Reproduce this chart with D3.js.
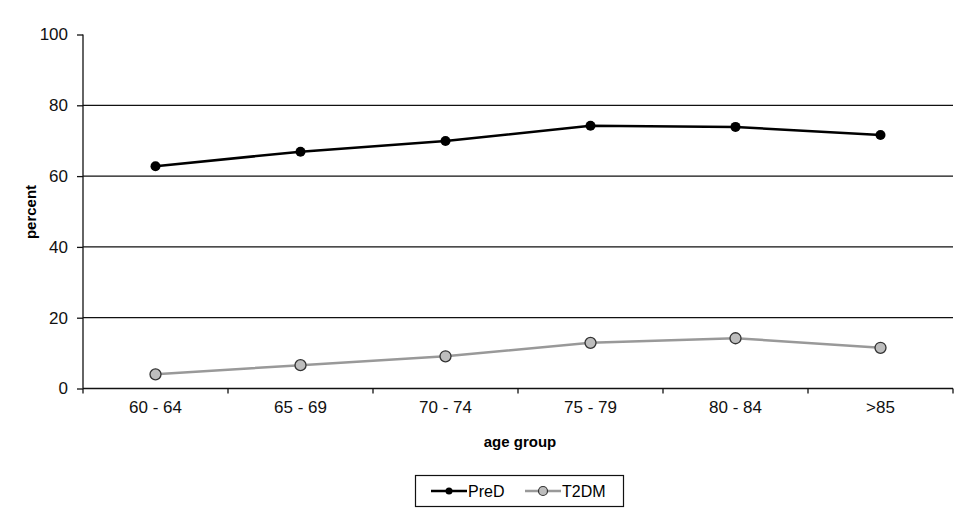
<!DOCTYPE html>
<html><head><meta charset="utf-8">
<script src="https://cdn.jsdelivr.net/npm/d3@7"></script>
<style>body{margin:0;background:#fff;}svg{display:block;font-family:Arial,"Liberation Sans",sans-serif;}</style>
</head><body><svg id="c" width="980" height="530"></svg>
<script>
const categories = ["60 - 64","65 - 69","70 - 74","75 - 79","80 - 84",">85"];
const predValues = [62.8, 66.9, 69.9, 74.2, 73.9, 71.6];
const t2dmValues = [4.0, 6.6, 9.1, 12.9, 14.2, 11.5];
const yTicks = [0,20,40,60,80,100];

const svg = d3.select("#c");
const L = 83, R = 953, T = 34.5, B = 388.5;
const x = d3.scaleBand().domain(categories).range([L,R]);
const y = d3.scaleLinear().domain([0,100]).range([B,T]);

// gridlines
svg.append("g").selectAll("line").data(yTicks.filter(d=>d>0&&d<100)).join("line")
  .attr("x1",L).attr("x2",R).attr("y1",d=>y(d)).attr("y2",d=>y(d))
  .attr("stroke","#111").attr("stroke-width",1.3);

// y axis
const ya = svg.append("g").attr("transform",`translate(${L},0)`)
  .call(d3.axisLeft(y).tickValues(yTicks).tickSize(6).tickPadding(9));
ya.selectAll("text").attr("font-size",17).attr("fill","#111");
ya.selectAll("line,path").attr("stroke","#111").attr("stroke-width",1.3);
ya.select(".domain").attr("d",`M0,${T}V${B}`);

// x axis
const xa = svg.append("g").attr("transform",`translate(0,${B})`)
  .call(d3.axisBottom(x).tickSize(0).tickPadding(12));
xa.selectAll("text").attr("font-size",17).attr("fill","#111");
xa.select(".domain").attr("stroke","#111").attr("stroke-width",1.3).attr("d",`M${L},0H${R}`);
svg.append("g").selectAll("line").data(d3.range(categories.length+1)).join("line")
  .attr("x1",i=>L+i*x.step()).attr("x2",i=>L+i*x.step())
  .attr("y1",B).attr("y2",B+5).attr("stroke","#111").attr("stroke-width",1.3);

// axis titles
svg.append("text").attr("transform",`translate(36,${212}) rotate(-90)`)
  .attr("text-anchor","middle").attr("font-weight","bold").attr("font-size",15).text("percent");
svg.append("text").attr("x",520).attr("y",447)
  .attr("text-anchor","middle").attr("font-weight","bold").attr("font-size",15).text("age group");

const cx = c => x(c)+x.bandwidth()/2;
const line = d3.line().x(d=>cx(d[0])).y(d=>y(d[1]));

// T2DM
const t2 = categories.map((c,i)=>[c,t2dmValues[i]]);
svg.append("path").datum(t2).attr("d",line).attr("fill","none").attr("stroke","#999").attr("stroke-width",2.5);
svg.append("g").selectAll("circle").data(t2).join("circle")
  .attr("cx",d=>cx(d[0])).attr("cy",d=>y(d[1])).attr("r",5.5)
  .attr("fill","#bdbdbd").attr("stroke","#333").attr("stroke-width",1.3);

// PreD
const pr = categories.map((c,i)=>[c,predValues[i]]);
svg.append("path").datum(pr).attr("d",line).attr("fill","none").attr("stroke","#000").attr("stroke-width",2.5);
svg.append("g").selectAll("circle").data(pr).join("circle")
  .attr("cx",d=>cx(d[0])).attr("cy",d=>y(d[1])).attr("r",5).attr("fill","#000");

// legend
const lg = svg.append("g");
lg.append("rect").attr("x",415.5).attr("y",475.5).attr("width",208).attr("height",31)
  .attr("fill","#fff").attr("stroke","#111").attr("stroke-width",1.2);
lg.append("line").attr("x1",431).attr("x2",467).attr("y1",491).attr("y2",491).attr("stroke","#000").attr("stroke-width",2.5);
lg.append("circle").attr("cx",449).attr("cy",491).attr("r",3.5).attr("fill","#000");
lg.append("text").attr("x",468).attr("y",497).attr("font-size",16).text("PreD");
lg.append("line").attr("x1",525).attr("x2",561).attr("y1",491).attr("y2",491).attr("stroke","#999").attr("stroke-width",2.5);
lg.append("circle").attr("cx",543).attr("cy",491).attr("r",4.5).attr("fill","#bdbdbd").attr("stroke","#333").attr("stroke-width",1.2);
lg.append("text").attr("x",562).attr("y",497).attr("font-size",16).text("T2DM");
</script></body></html>
